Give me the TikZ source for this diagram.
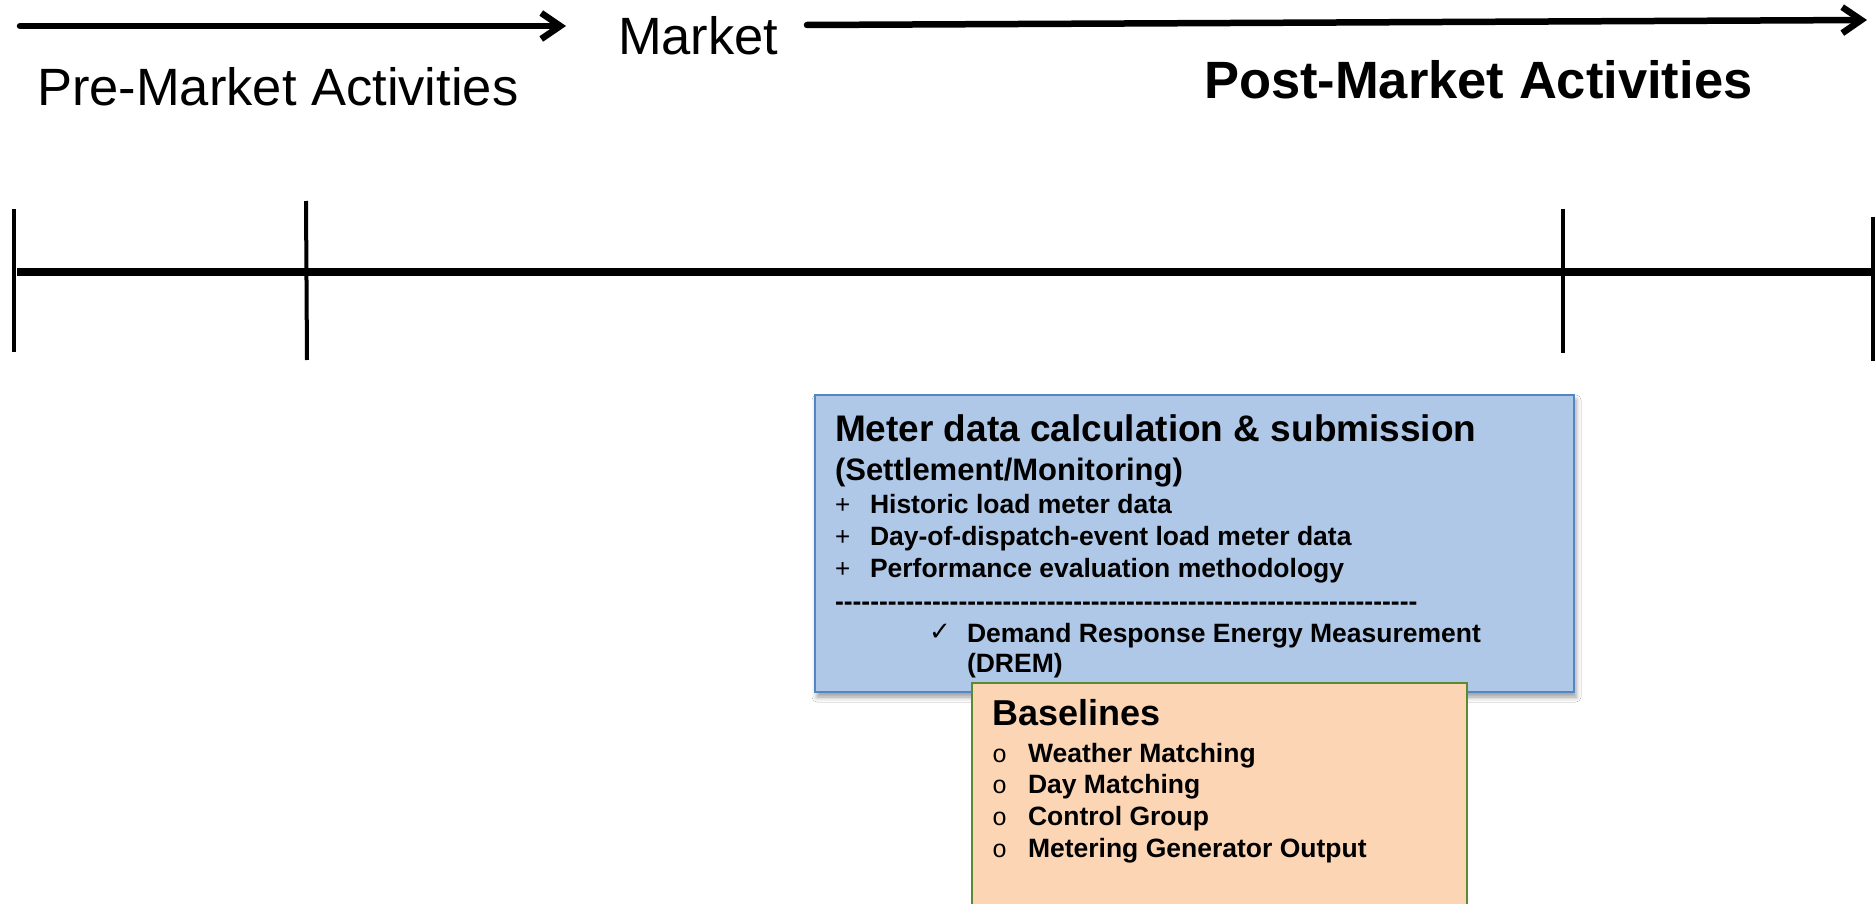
\documentclass[tikz,border=0pt]{standalone}
\usepackage{fontspec}
\setmainfont{Liberation Sans}
\newfontfamily\symfont{DejaVu Sans}
\newfontfamily\monofont{Liberation Mono}
\usetikzlibrary{arrows.meta,shadows.blur}
\definecolor{boxblue}{HTML}{AFC8E7}
\definecolor{boxblueline}{HTML}{5585C3}
\definecolor{boxpeach}{HTML}{FCD5B5}
\definecolor{boxgreen}{HTML}{5B8A33}
\newcommand{\fsz}[1]{\fontsize{#1}{#1}\selectfont}
\newcommand{\dashrun}[1]{\foreach \k in {1,...,#1}{\hbox{-}}}
\begin{document}
\begin{tikzpicture}[x=1pt,y=-1pt,
  lbl/.style={anchor=base west, inner sep=0pt, outer sep=0pt},
  head/.style={lbl, font=\fsz{52.5}},
  item/.style={lbl, font=\bfseries\fsz{26.5}},
  plussign/.style={lbl, font=\fsz{26}},
  bulleto/.style={lbl, font=\monofont\fsz{25}},
  timearrow/.style={line width=6.5pt, line cap=round, line join=round,
    -{Straight Barb[length=19pt,width=26pt,line width=6.5pt]}},
  tickline/.style={line width=4pt},
  panel/.style={anchor=north west, inner sep=0pt, outer sep=0pt, line width=2pt}]
\useasboundingbox (0,0) rectangle (1875,904);
\clip (0,0) rectangle (1875,904);
\fill[white] (0,0) rectangle (1875,904);

% top arrows and labels
\coordinate (a1s) at (20,26);
\coordinate (a1e) at (566,26);
\coordinate (a2s) at (807,25);
\coordinate (a2e) at (1867,20);
\draw[timearrow] (a1s) -- (a1e);
\draw[timearrow] (a2s) -- (a2e);
\node[head] (market) at (618,55) {Market};
\node[head] (pre) at (37,106) {Pre-Market Activities};
\node[head, font=\bfseries\fsz{52.5}] (post) at (1204,99) {Post-Market Activities};

% timeline
\coordinate (tl) at (17,272);
\coordinate (tr) at (1880,272);
\draw[line width=8.5pt] (tl) -- (tr);
\coordinate (t1a) at (14,209);  \coordinate (t1b) at (14,352);
\coordinate (t2a) at (306,201); \coordinate (t2b) at (307,360);
\coordinate (t3a) at (1563,209); \coordinate (t3b) at (1563,353);
\coordinate (t4a) at (1873,217); \coordinate (t4b) at (1873,361);
\draw[tickline] (t1a) -- (t1b);
\draw[tickline] (t2a) -- (t2b);
\draw[tickline] (t3a) -- (t3b);
\draw[tickline] (t4a) -- (t4b);

% blue panel
\node[panel, draw=boxblueline, fill=boxblue, minimum width=759pt, minimum height=297pt,
  blur shadow={shadow xshift=2pt, shadow yshift=-5pt, shadow blur radius=5pt, shadow opacity=40}]
  (blue) at (815,395) {};
\node[lbl, font=\bfseries\fsz{37}] (bt1) at (835,441) {Meter data calculation \& submission};
\node[lbl, font=\bfseries\fsz{31}] (bt2) at (835,480) {(Settlement/Monitoring)};
\node[plussign] (p1) at (835,513) {+};
\node[item] (i1) at (870,513) {Historic load meter data};
\node[plussign] (p2) at (835,545) {+};
\node[item] (i2) at (870,545) {Day-of-dispatch-event load meter data};
\node[plussign] (p3) at (835,577) {+};
\node[item] (i3) at (870,577) {Performance evaluation methodology};
\node[item] (dashes) at (835,610) {\dashrun{66}};
\node[lbl, font=\symfont\fsz{26}] (chk) at (929,640) {✓};
\node[item] (d1) at (967,642) {Demand Response Energy Measurement};
\node[item] (d2) at (967,672) {(DREM)};

% peach panel
\node[panel, draw=boxgreen, fill=boxpeach, minimum width=495pt, minimum height=240pt]
  (peach) at (972,683) {};
\node[lbl, font=\bfseries\fsz{36}] (bl) at (992,725) {Baselines};
\node[bulleto] (o1) at (992,762) {o};
\node[item] (b1) at (1028,762) {Weather Matching};
\node[bulleto] (o2) at (992,793) {o};
\node[item] (b2) at (1028,793) {Day Matching};
\node[bulleto] (o3) at (992,825) {o};
\node[item] (b3) at (1028,825) {Control Group};
\node[bulleto] (o4) at (992,857) {o};
\node[item] (b4) at (1028,857) {Metering Generator Output};
\end{tikzpicture}
\end{document}
